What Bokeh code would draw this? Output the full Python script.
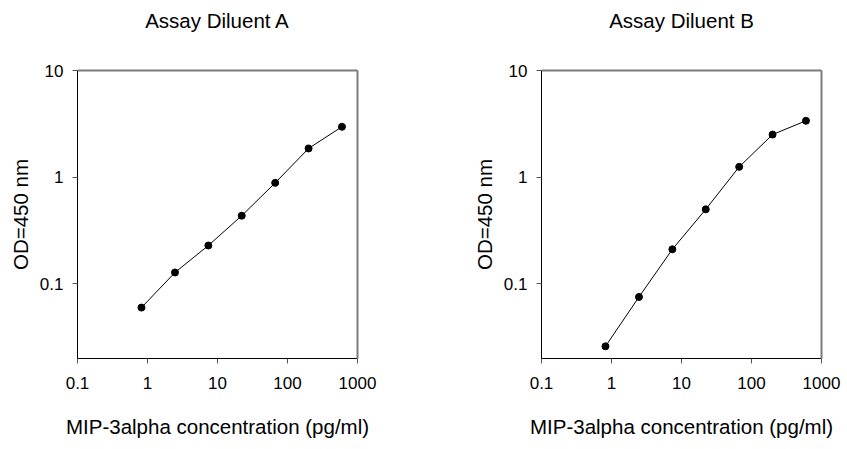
from bokeh.plotting import figure
from bokeh.layouts import row
from bokeh.models import FixedTicker, LogAxis, ColumnDataSource
from bokeh.embed import file_html
from bokeh.resources import INLINE

# ---- data ----
conc = [0.82, 2.47, 7.4, 22.2, 66.7, 200, 600]
od_a = [0.060, 0.128, 0.229, 0.436, 0.885, 1.86, 2.97]
od_b = [0.026, 0.0755, 0.211, 0.50, 1.25, 2.51, 3.38]
titles = ["Assay Diluent A", "Assay Diluent B"]
x_ticks = [0.1, 1, 10, 100, 1000]
x_tick_labels = ["0.1", "1", "10", "100", "1000"]
y_ticks = [0.1, 1, 10]
y_tick_labels = ["0.1", "1", "10"]
x_range = (0.1, 1000)
y_range = (0.02, 10)
x_label = "MIP-3alpha concentration (pg/ml)"
y_label = "OD=450 nm"

FONT = "Liberation Sans"


def make(title, ys, border_left, border_right):
    p = figure(
        x_axis_type="log", y_axis_type="log",
        x_range=x_range, y_range=y_range,
        frame_width=280, frame_height=288,
        min_border_left=border_left, min_border_right=border_right,
        min_border_top=70, min_border_bottom=90,
        output_backend="svg", toolbar_location=None,
        background_fill_color="white", border_fill_color="white",
    )
    p.title.visible = False
    p.grid.visible = False
    p.outline_line_color = None
    xax = p.below[0]
    yax = p.left[0]

    # gray top/right frame lines; the top one carries the panel title
    for loc in ("above", "right"):
        ax = LogAxis(ticker=FixedTicker(ticks=[]), axis_line_color="#7a7a7a",
                     axis_line_width=2, major_tick_line_color=None,
                     minor_tick_line_color=None, major_tick_out=0,
                     major_label_standoff=0, axis_label_standoff=0)
        if loc == "above":
            ax.axis_label = title
            ax.axis_label_standoff = 39
            ax.axis_label_text_font = FONT
            ax.axis_label_text_font_size = "20.5px"
            ax.axis_label_text_font_style = "normal"
            ax.axis_label_text_color = "black"
        p.add_layout(ax, loc)

    for ax, ticks, labels in ((xax, x_ticks, x_tick_labels),
                              (yax, y_ticks, y_tick_labels)):
        ax.ticker = FixedTicker(ticks=ticks)
        ax.major_label_overrides = {v: s for v, s in zip(ticks, labels)}
        ax.minor_tick_line_color = None
        ax.major_tick_in = 0
        ax.major_tick_out = 5
        ax.major_tick_line_color = "#555555"
        ax.axis_line_color = "black"
        ax.axis_line_width = 1
        ax.major_label_text_font = FONT
        ax.major_label_text_font_size = "17px"
        ax.major_label_text_color = "black"
        ax.axis_label_text_font = FONT
        ax.axis_label_text_font_size = "20.5px"
        ax.axis_label_text_font_style = "normal"
        ax.axis_label_text_color = "black"

    xax.axis_label = x_label
    xax.major_label_standoff = 13
    xax.axis_label_standoff = 23
    yax.axis_label = y_label
    yax.major_label_standoff = 9
    yax.axis_label_standoff = 5

    src = ColumnDataSource(dict(x=conc, y=ys))
    p.line("x", "y", source=src, line_color="black", line_width=1)
    p.scatter("x", "y", source=src, size=7, fill_color="black",
              line_color="black")
    return p


p1 = make(titles[0], od_a, 77, 66)
p2 = make(titles[1], od_b, 118, 24)
layout = row(p1, p2, spacing=0)

open("out.html", "w").write(file_html(layout, INLINE))
